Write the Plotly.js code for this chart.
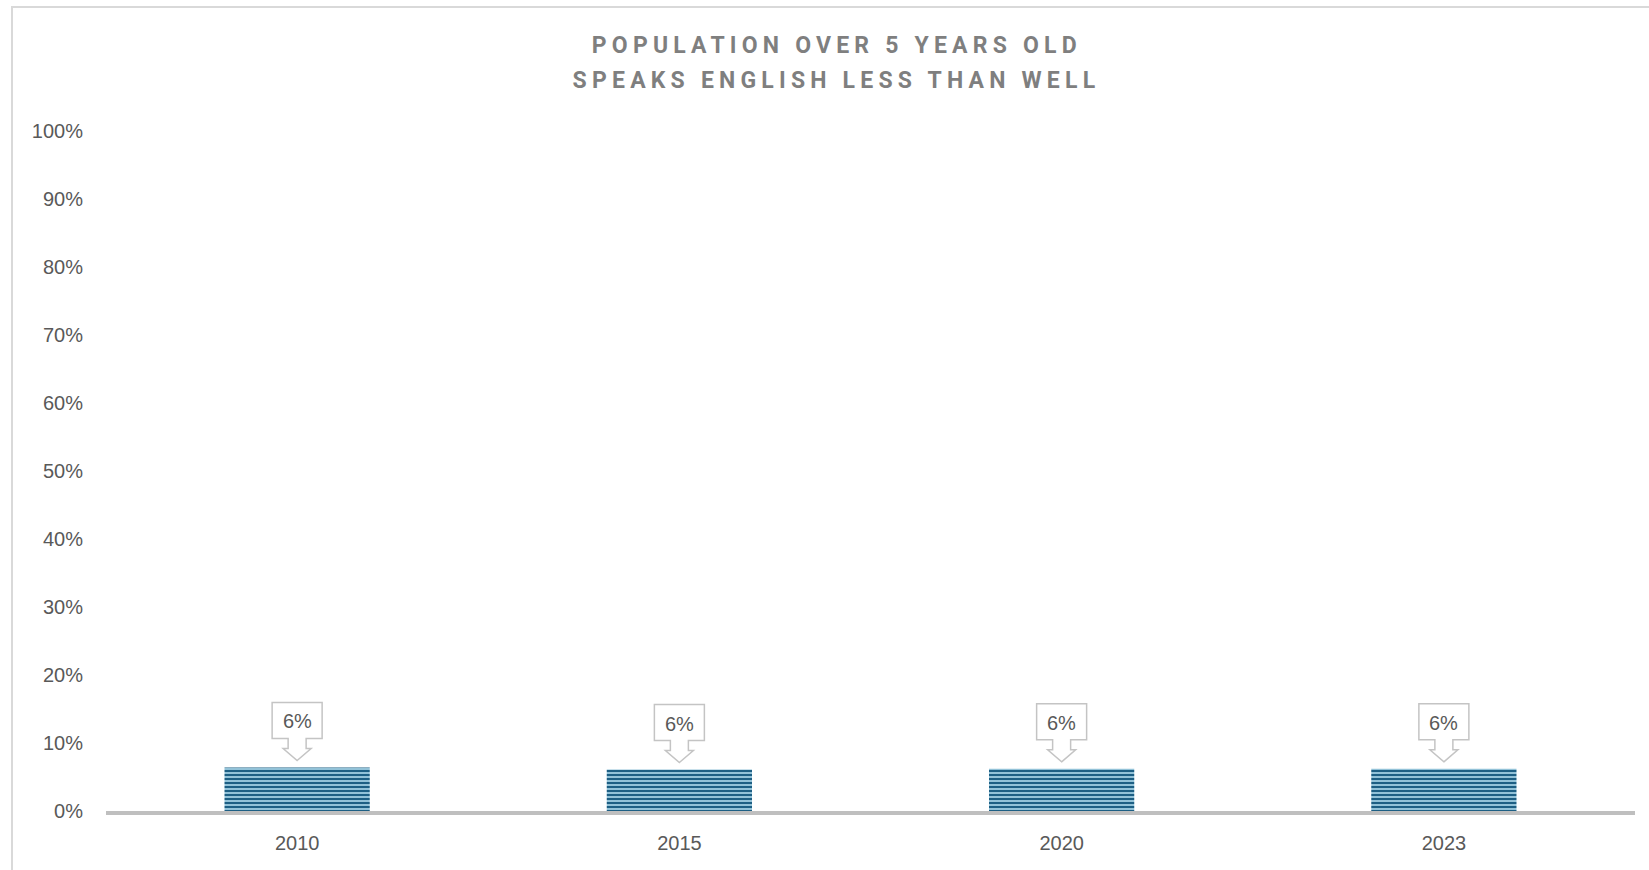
<!DOCTYPE html>
<html>
<head>
<meta charset="utf-8">
<script src="https://cdn.plot.ly/plotly-3.0.1.min.js"></script>
<style>
  html, body { margin: 0; padding: 0; background: #fff; overflow: hidden; }
  #chart { position: absolute; left: 0; top: 0; width: 1649px; height: 870px; }
  #frame { position: absolute; left: 11px; top: 6px; width: 1700px; height: 900px;
           border-left: 2px solid #d9d9d9; border-top: 2px solid #d9d9d9; pointer-events: none; }
  .annotation[data-index="0"] text, .annotation[data-index="1"] text { letter-spacing: 5.2px; }
</style>
</head>
<body>
<div id="chart"></div>
<div id="frame"></div>
<script>
const categories = ["2010", "2015", "2020", "2023"];
const values = [0.064, 0.061, 0.062, 0.062];
const titleLines = ["POPULATION OVER 5 YEARS OLD", "SPEAKS ENGLISH LESS THAN WELL"];
const yTickVals = [0, 0.1, 0.2, 0.3, 0.4, 0.5, 0.6, 0.7, 0.8, 0.9, 1.0];
const yTickText = ["0%", "10%", "20%", "30%", "40%", "50%", "60%", "70%", "80%", "90%", "100%"];

const idx = categories.map((c, i) => i);

const trace = {
  type: "bar",
  x: categories,
  y: values,
  width: 0.38,
  marker: {
    color: "#1d5f84",
    line: { width: 0 },
    pattern: { shape: "-", bgcolor: "#1d5f84", fgcolor: "#a9d5e8", fgopacity: 1, size: 4, solidity: 0.42 }
  },
  hoverinfo: "skip"
};

// callout outline (pixel offsets relative to bar top), built per bar
const calloutPath = "M0,7 L14,19 L9,19 L9,29 L25,29 L25,65 L-25,65 L-25,29 L-9,29 L-9,19 L-14,19 Z";
const shapes = idx.map(i => ({
  type: "path", xref: "x", yref: "y",
  xsizemode: "pixel", ysizemode: "pixel",
  xanchor: i, yanchor: values[i],
  path: calloutPath,
  fillcolor: "#ffffff",
  line: { color: "#c4c4c4", width: 1.5 },
  layer: "above"
}));

const titleFont = { family: "Roboto, 'Liberation Sans', sans-serif", size: 23, color: "#7f7f7f", weight: "bold" };
const annotations = [
  { xref: "paper", yref: "paper", x: 0.478, y: 1, yshift: 86, text: titleLines[0], showarrow: false,
    xanchor: "center", yanchor: "middle", font: titleFont },
  { xref: "paper", yref: "paper", x: 0.478, y: 1, yshift: 51, text: titleLines[1], showarrow: false,
    xanchor: "center", yanchor: "middle", font: titleFont }
].concat(idx.map(i => ({
  xref: "x", yref: "y", x: i, y: values[i], yshift: 46,
  text: Math.round(values[i] * 100) + "%", showarrow: false,
  xanchor: "center", yanchor: "middle",
  font: { family: "'Liberation Sans', Arial, sans-serif", size: 20, color: "#595959" }
})));

const layout = {
  width: 1649, height: 870,
  margin: { l: 106, r: 14, t: 131, b: 59 },
  paper_bgcolor: "#ffffff", plot_bgcolor: "#ffffff",
  showlegend: false,
  xaxis: {
    type: "category",
    range: [-0.5, categories.length - 0.5], autorange: false,
    showline: true, linecolor: "#bfbfbf", linewidth: 4,
    showgrid: false, zeroline: false, ticks: "",
    ticklabelstandoff: 11,
    tickfont: { family: "'Liberation Sans', Arial, sans-serif", size: 20, color: "#595959" }
  },
  yaxis: {
    range: [0, 1], autorange: false,
    tickvals: yTickVals, ticktext: yTickText,
    showline: false, showgrid: false, zeroline: false, ticks: "",
    ticklabelstandoff: 22,
    tickfont: { family: "'Liberation Sans', Arial, sans-serif", size: 20, color: "#595959" }
  },
  shapes: shapes,
  annotations: annotations
};

Plotly.newPlot("chart", [trace], layout, { displayModeBar: false, staticPlot: true });
</script>
</body>
</html>
